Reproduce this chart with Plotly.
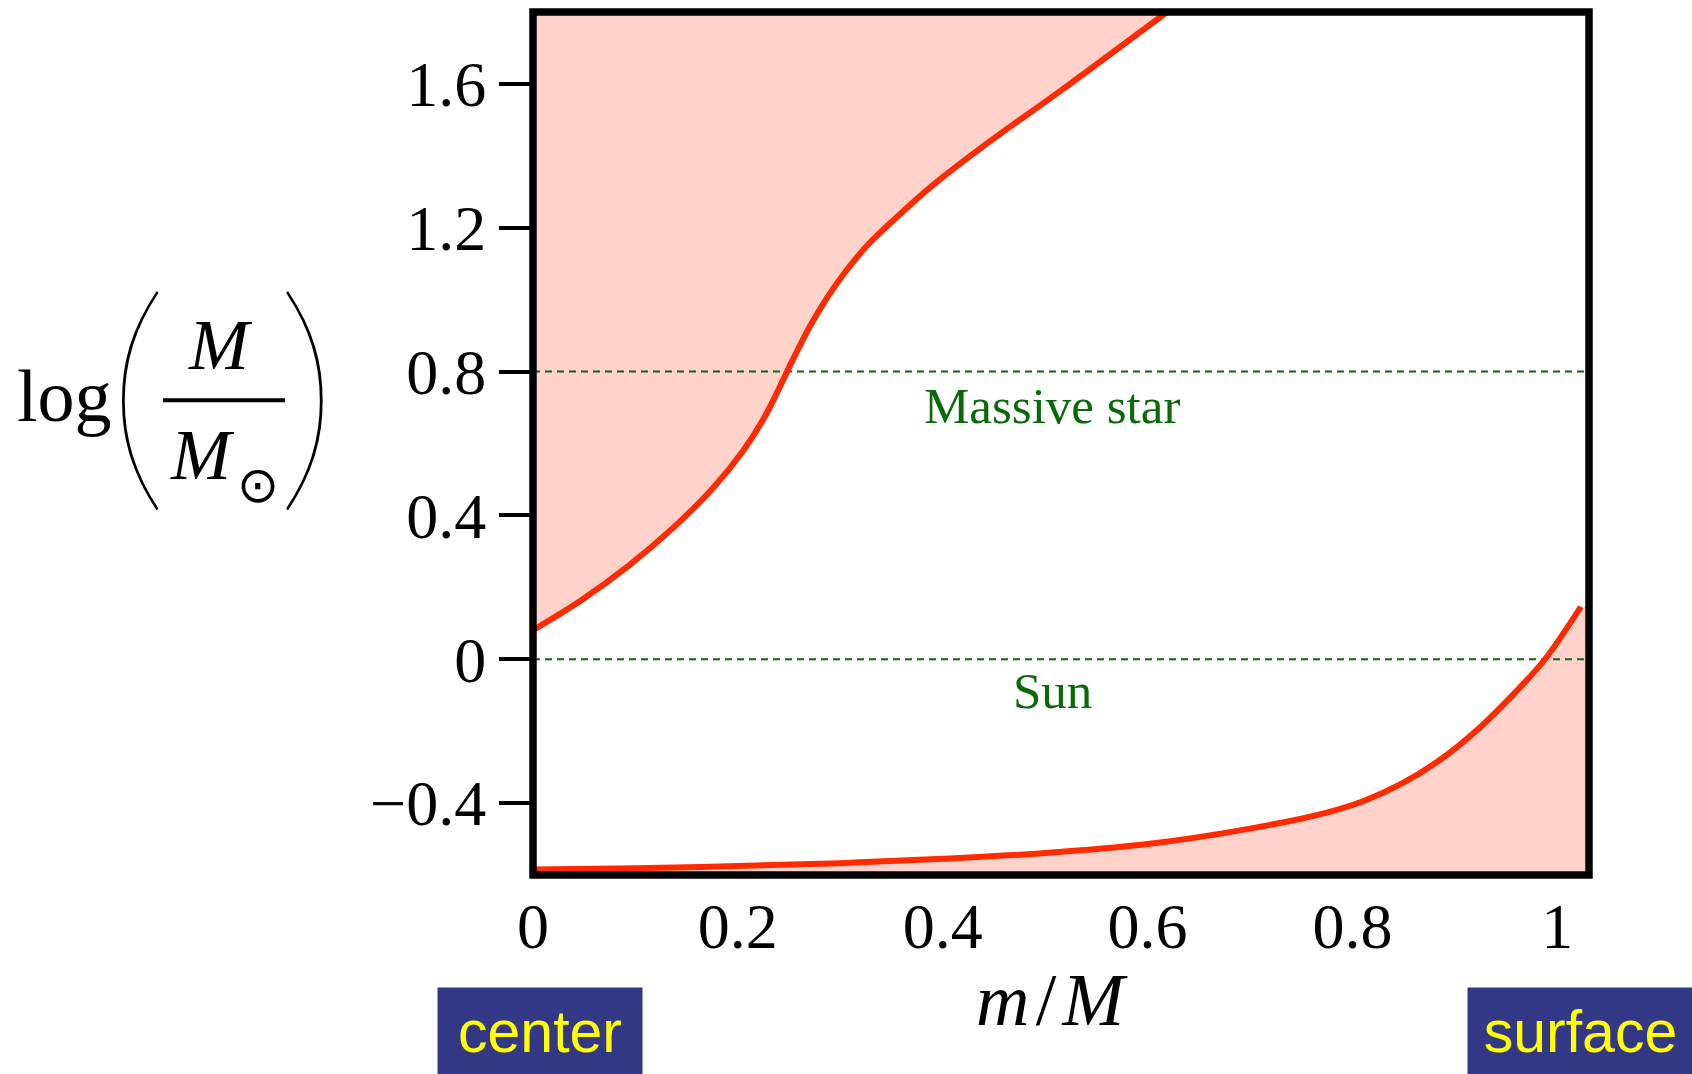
import plotly.graph_objects as go

# ---------------- data ----------------
upper_x = [0.0, 0.046, 0.095, 0.137, 0.176, 0.205, 0.225, 0.238, 0.248, 0.257,
           0.270, 0.287, 0.303, 0.326, 0.358, 0.391, 0.441, 0.517, 0.619]
upper_y = [0.081, 0.162, 0.264, 0.366, 0.477, 0.579, 0.668, 0.740, 0.800, 0.852,
           0.924, 1.005, 1.070, 1.150, 1.237, 1.320, 1.430, 1.585, 1.800]

lower_x = [0.0, 0.1, 0.2, 0.3, 0.4, 0.5, 0.6, 0.7, 0.774, 0.811, 0.848, 0.885,
           0.922, 0.959, 0.988, 1.023]
lower_y = [-0.585, -0.581, -0.575, -0.567, -0.555, -0.539, -0.514, -0.471, -0.427,
           -0.394, -0.346, -0.281, -0.196, -0.092, 0.0, 0.146]

ref_levels = [0.8, 0.0]
ref_labels = ["Massive star", "Sun"]
ref_label_x = [0.507, 0.507]

x_tickvals = [0, 0.2, 0.4, 0.6, 0.8, 1.0]
x_ticktext = ["0", "0.2", "0.4", "0.6", "0.8", "1"]
y_tickvals = [-0.4, 0, 0.4, 0.8, 1.2, 1.6]
y_ticktext = ["\u22120.4", "0", "0.4", "0.8", "1.2", "1.6"]

X_RANGE = [0, 1.031]
Y_RANGE = [-0.6, 1.8]

# ---------------- styles / layout ----------------
W, H = 1692, 1074
L, T = 533, 11.5
PW, PH = 1056, 863.5
R = W - L - PW
B = H - T - PH
RED = "#FF2A00"
PINK = "#FFD3CC"
GREEN = "#0A6A0A"
SERIF = "Liberation Serif"
SANS = "Liberation Sans"
BOX = "#333886"


def px(x):
    """pixel x -> paper coordinate"""
    return (x - L) / PW


def py(y):
    """pixel y -> paper coordinate"""
    return (H - B - y) / PH


fig = go.Figure()

# filled regions
fig.add_trace(go.Scatter(
    x=upper_x + [X_RANGE[0]], y=upper_y + [Y_RANGE[1]],
    fill="toself", fillcolor=PINK, mode="lines", line=dict(width=0),
    hoverinfo="skip", showlegend=False))
fig.add_trace(go.Scatter(
    x=lower_x + [X_RANGE[1], X_RANGE[1], X_RANGE[0]],
    y=lower_y + [lower_y[-1], Y_RANGE[0], Y_RANGE[0]],
    fill="toself", fillcolor=PINK, mode="lines", line=dict(width=0),
    hoverinfo="skip", showlegend=False))

# reference dashed lines
for lv in ref_levels:
    fig.add_trace(go.Scatter(
        x=X_RANGE, y=[lv, lv], mode="lines",
        line=dict(color=GREEN, width=2, dash="7px,5px"),
        hoverinfo="skip", showlegend=False))

# curves
for cx, cy in ((upper_x, upper_y), (lower_x, lower_y)):
    fig.add_trace(go.Scatter(x=cx, y=cy, mode="lines",
                             line=dict(color=RED, width=6, shape="spline", smoothing=1.0),
                             hoverinfo="skip", showlegend=False))

annotations = []
label_shift = [-34, -32]
for lx, lv, lab, sh in zip(ref_label_x, ref_levels, ref_labels, label_shift):
    annotations.append(dict(x=lx, y=lv, xref="x", yref="y", text=lab,
                            xanchor="center", yanchor="middle", yshift=sh,
                            font=dict(family=SERIF, size=51, color=GREEN)))

paper_anns = [
    # y-axis title: log( M / M_sun )
    dict(x=px(64), y=py(396), text="log", font=dict(family=SERIF, size=74, color="black")),
    dict(x=px(137.5), y=py(383), text="(", font=dict(family="Lato", size=250, weight=100, color="black")),
    dict(x=px(307), y=py(383), text=")", font=dict(family="Lato", size=250, weight=100, color="black")),
    dict(x=px(220), y=py(345), text="<i>M</i>", font=dict(family=SERIF, size=72, color="black")),
    dict(x=px(202), y=py(455), text="<i>M</i>", font=dict(family=SERIF, size=72, color="black")),
    dict(x=px(257.5), y=py(485), text="\u2299", font=dict(family="DejaVu Sans", size=50, color="black")),
    # x-axis title
    dict(x=px(1052), y=py(1000), text="<i>m</i>\u200a/\u200a<i>M</i>",
         font=dict(family=SERIF, size=74, color="black")),
]
for a in paper_anns:
    a.update(xref="paper", yref="paper", xanchor="center", yanchor="middle")
annotations += paper_anns

# labelled boxes
for left, wd, txt in ((437, 204, "center"), (1467, 225, "surface")):
    annotations.append(dict(x=px(left), y=py(987), xref="paper", yref="paper",
                            xanchor="left", yanchor="top", text=txt, align="center",
                            width=wd, height=87, bgcolor=BOX, borderpad=0, valign="middle",
                            font=dict(family=SANS, size=59, color="#FFFF00")))

for a in annotations:
    a["showarrow"] = False

shapes = [
    dict(type="line", xref="paper", yref="paper", x0=px(163), x1=px(285), y0=py(400), y1=py(400),
         line=dict(color="black", width=4)),
    dict(type="rect", xref="paper", yref="paper", x0=0, x1=1, y0=0, y1=1,
         line=dict(color="black", width=7.5), layer="above"),
]

fig.update_layout(
    width=W, height=H,
    margin=dict(l=L, r=R, t=T, b=B, autoexpand=False),
    plot_bgcolor="white", paper_bgcolor="white",
    annotations=annotations, shapes=shapes,
    xaxis=dict(range=X_RANGE, tickvals=x_tickvals, ticktext=x_ticktext, ticks="",
               showgrid=False, zeroline=False, showline=False,
               tickfont=dict(family=SERIF, size=64, color="black"), ticklabelstandoff=8),
    yaxis=dict(range=Y_RANGE, tickvals=y_tickvals, ticktext=y_ticktext, ticks="outside",
               ticklen=33, tickwidth=4, tickcolor="black",
               showgrid=False, zeroline=False, showline=False,
               tickfont=dict(family=SERIF, size=64, color="black"), ticklabelstandoff=0),
)

fig.write_html("out.html",
               config={"displayModeBar": False},
               post_script="document.body.style.margin='0px';document.body.style.overflow='hidden';")
